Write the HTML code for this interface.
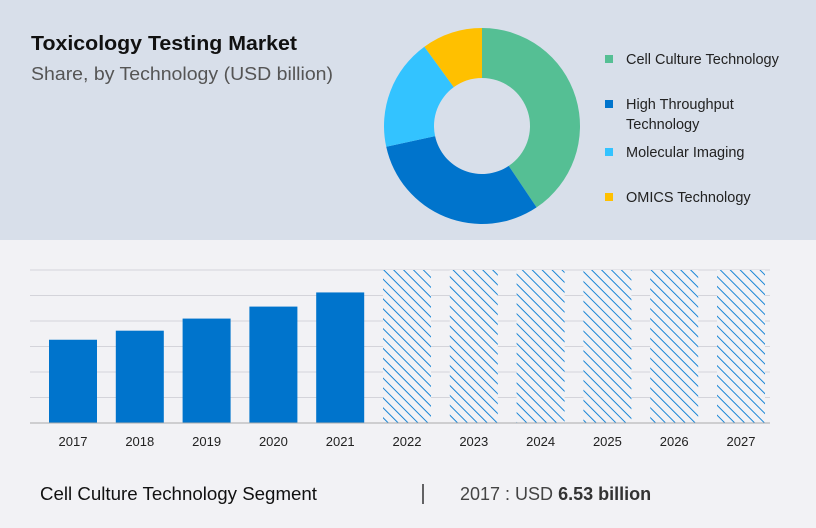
<!DOCTYPE html>
<html><head><meta charset="utf-8"><style>
html,body{margin:0;padding:0;background:#f2f2f5;}
svg{display:block;font-family:"Liberation Sans",sans-serif;}
</style></head><body>
<svg id="chart" width="816" height="528" viewBox="0 0 816 528">
<defs>
<pattern id="hatch" patternUnits="userSpaceOnUse" width="7" height="7" patternTransform="rotate(-45)">
<line x1="3.5" y1="-1" x2="3.5" y2="8" stroke="#1a86d6" stroke-width="1"/>
</pattern>
</defs>
<rect x="0" y="0" width="816" height="240" fill="#d8dfea"/>
<rect x="0" y="240" width="816" height="288" fill="#f2f2f5"/>
<text x="31" y="50" font-size="20" font-weight="bold" fill="#111" textLength="266" lengthAdjust="spacingAndGlyphs">Toxicology Testing Market</text>
<text x="31" y="80" font-size="18" fill="#555" textLength="302" lengthAdjust="spacingAndGlyphs">Share, by Technology (USD billion)</text>
<g id="donut"></g>
<g id="legend"></g>
<g id="grid"></g>
<g id="bars"></g>
<g id="xlabels"></g>
<line x1="30" y1="423" x2="770" y2="423" stroke="#aaa" stroke-width="1"/>
<text x="40" y="500" font-size="18" fill="#111" textLength="277" lengthAdjust="spacingAndGlyphs">Cell Culture Technology Segment</text>
<line x1="423" y1="484" x2="423" y2="504" stroke="#333" stroke-width="1.5"/>
<text x="460" y="500" font-size="18" fill="#444">2017 : USD <tspan font-weight="bold" fill="#333">6.53 billion</tspan></text>
</svg>
<script>
const years=["2017","2018","2019","2020","2021","2022","2023","2024","2025","2026","2027"];
const values=[6.53,7.24,8.19,9.13,10.24,null,null,null,null,null,null];
const forecast=[false,false,false,false,false,true,true,true,true,true,true];
const gridTicks=[0,2,4,6,8,10,12];
const sliceLabels=["Cell Culture Technology","High Throughput Technology","Molecular Imaging","OMICS Technology"];
const sliceShares=[40.6,31.0,18.4,10.0];
const sliceColors=["#55bf94","#0074cc","#33c3ff","#ffc000"];
const NS="http://www.w3.org/2000/svg";
const yMax=12,y0=423,yTop=270;
function yS(v){return y0-(v/yMax)*(y0-yTop);}
function xS(i){return 49+i*66.8;}
const bw=48;
function mk(t,a,p){const e=document.createElementNS(NS,t);for(const k in a)e.setAttribute(k,a[k]);p.appendChild(e);return e;}
const grid=document.getElementById('grid');
gridTicks.forEach((t,i)=>{if(t===0)return;const l=mk('line',{x1:30,x2:770,y1:yS(t),y2:yS(t),stroke:'#d4d4da','stroke-width':1},grid);

});
const bars=document.getElementById('bars'),xl=document.getElementById('xlabels');
years.forEach((y,i)=>{
 let r;
 if(forecast[i]){mk('rect',{x:xS(i),y:yTop,width:bw,height:y0-yTop,fill:'#f2f2f5'},bars);r=mk('rect',{x:xS(i),y:yTop,width:bw,height:y0-yTop,fill:'url(#hatch)'},bars);}
 else{r=mk('rect',{x:xS(i),y:yS(values[i]),width:bw,height:y0-yS(values[i]),fill:'#0074cc'},bars);}
 
 
 const t=mk('text',{x:xS(i)+bw/2,y:446,'text-anchor':'middle','font-size':13,fill:'#222'},xl);t.textContent=y;
 
 
});
const donut=document.getElementById('donut');
const cx=482,cy=126,R=98,r0=48;
let a=0;const tot=sliceShares.reduce((s,v)=>s+v,0);
function pt(ang,rad){return [cx+rad*Math.sin(ang),cy-rad*Math.cos(ang)];}
sliceShares.forEach((s,i)=>{
 const a1=a+s/tot*2*Math.PI;const lg=(a1-a)>Math.PI?1:0;
 const p1=pt(a,R),p2=pt(a1,R),p3=pt(a1,r0),p4=pt(a,r0);
 const p=mk('path',{d:`M${p1}A${R},${R} 0 ${lg} 1 ${p2}L${p3}A${r0},${r0} 0 ${lg} 0 ${p4}Z`,fill:sliceColors[i]},donut);
 
 
 a=a1;
});
const legend=document.getElementById('legend');
const ly=[59,104,152,197];
sliceLabels.forEach((l,i)=>{
 const g=mk('g',{},legend);
 
 
 mk('rect',{x:605,y:ly[i]-4,width:8,height:8,fill:sliceColors[i]},g);
 const t=mk('text',{x:626,y:ly[i]+5,'font-size':14.5,fill:'#222'},g);
 if(i===1){t.textContent='High Throughput';const t2=mk('text',{x:626,y:ly[i]+25,'font-size':14.5,fill:'#222'},g);t2.textContent='Technology';}
 else t.textContent=l;
});
</script>
</body></html>
